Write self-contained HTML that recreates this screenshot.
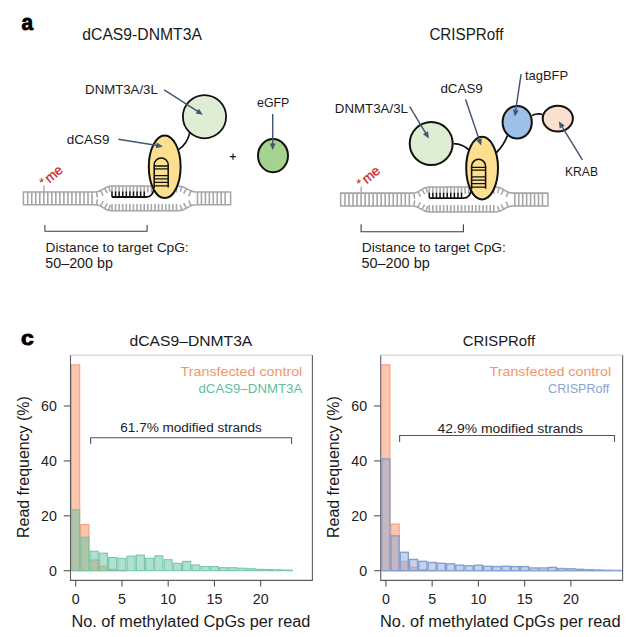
<!DOCTYPE html>
<html><head><meta charset="utf-8"><style>
html,body{margin:0;padding:0;background:#fff;}
svg{display:block;}
text{font-family:"Liberation Sans", sans-serif;}
</style></head><body>
<svg width="627" height="637" viewBox="0 0 627 637">
<rect width="627" height="637" fill="#fff"/>
<text x="21.5" y="29.9" font-size="21.3" fill="#000" text-anchor="start" font-weight="bold" textLength="11.6" lengthAdjust="spacingAndGlyphs" stroke="#000" stroke-width="0.8" stroke-linejoin="round">a</text>
<text x="82.3" y="39.7" font-size="15.8" fill="#1a1a1a" text-anchor="start" font-weight="normal" textLength="119.6" lengthAdjust="spacingAndGlyphs" >dCAS9-DNMT3A</text>
<text x="429.4" y="39.6" font-size="15.8" fill="#1a1a1a" text-anchor="start" font-weight="normal" textLength="74.0" lengthAdjust="spacingAndGlyphs" >CRISPRoff</text>
<g transform="translate(0,0)"><path d="M23.4,204.8 V192.0 H95.5 C103.5,192.0 103.5,185.9 111.5,185.9 H178.5 C187.0,185.9 187.0,192.0 195.5,192.0 H230.6 V204.8 H195.5 C187.0,204.8 187.0,210.8 178.5,210.8 H111.5 C103.5,210.8 103.5,204.8 95.5,204.8 Z" fill="none" stroke="#a6a6a6" stroke-width="1.55"/><path d="M27.70,192.0 V204.8 M31.72,192.0 V204.8 M35.74,192.0 V204.8 M39.76,192.0 V204.8 M43.78,192.0 V204.8 M47.80,192.0 V204.8 M51.82,192.0 V204.8 M55.84,192.0 V204.8 M59.86,192.0 V204.8 M63.88,192.0 V204.8 M67.90,192.0 V204.8 M71.92,192.0 V204.8 M75.94,192.0 V204.8 M79.96,192.0 V204.8 M83.98,192.0 V204.8 M88.00,192.0 V204.8 M92.02,192.0 V204.8 M197.50,192.0 V204.8 M201.45,192.0 V204.8 M205.40,192.0 V204.8 M209.35,192.0 V204.8 M213.30,192.0 V204.8 M217.25,192.0 V204.8 M221.20,192.0 V204.8 M225.15,192.0 V204.8" stroke="#a6a6a6" stroke-width="1.6" fill="none"/><path d="M96.60,191.93 L97.31,197.48 M96.60,204.87 L97.30,199.31 M100.60,190.59 L103.12,195.59 M100.60,206.18 L103.09,201.17 M104.60,188.30 L107.43,193.13 M104.60,208.44 L107.39,203.59 M108.60,186.38 L110.32,191.71 M108.60,210.33 L110.29,204.99 M182.00,186.52 L180.20,191.82 M182.00,210.19 L180.23,204.88 M186.40,188.61 L183.66,193.50 M186.40,208.13 L183.70,203.23 M191.00,191.00 L188.85,196.17 M191.00,205.78 L188.88,200.60 M112.00,185.9 V192.6 M112.00,210.8 V204.0 M115.58,185.9 V192.6 M115.58,210.8 V204.0 M119.16,185.9 V192.6 M119.16,210.8 V204.0 M122.74,185.9 V192.6 M122.74,210.8 V204.0 M126.32,185.9 V192.6 M126.32,210.8 V204.0 M129.90,185.9 V192.6 M129.90,210.8 V204.0 M133.48,185.9 V192.6 M133.48,210.8 V204.0 M137.06,185.9 V192.6 M137.06,210.8 V204.0 M140.64,185.9 V192.6 M140.64,210.8 V204.0 M144.22,185.9 V192.6 M144.22,210.8 V204.0 M147.80,185.9 V192.6 M147.80,210.8 V204.0 M151.38,185.9 V192.6 M151.38,210.8 V204.0 M154.96,185.9 V192.6 M154.96,210.8 V204.0 M158.54,185.9 V192.6 M158.54,210.8 V204.0 M162.12,185.9 V192.6 M162.12,210.8 V204.0 M165.70,185.9 V192.6 M165.70,210.8 V204.0 M169.28,185.9 V192.6 M169.28,210.8 V204.0 M172.86,185.9 V192.6 M172.86,210.8 V204.0 M176.44,185.9 V192.6 M176.44,210.8 V204.0" stroke="#a6a6a6" stroke-width="1.55" fill="none"/><path d="M112.00,197 V191.6 M115.58,197 V191.6 M119.16,197 V191.6 M122.74,197 V191.6 M126.32,197 V191.6 M129.90,197 V191.6 M133.48,197 V191.6 M137.06,197 V191.6 M140.64,197 V191.6 M144.22,197 V191.6" stroke="#111" stroke-width="1.5" fill="none"/><path d="M112,197 H146 C150.5,197 153.6,193.5 154.2,187.5" stroke="#111" stroke-width="1.8" fill="none"/><path d="M43.9,185.5 V192" stroke="#a6a6a6" stroke-width="1.35"/></g>
<path d="M178.2,149.9 C183.5,146.5 188,141 189.8,132.5" stroke="#111" stroke-width="1.6" fill="none"/>
<circle cx="204.5" cy="116.7" r="21.6" fill="#dfedd5" stroke="#111" stroke-width="1.8"/>
<g transform="translate(0,0)"><ellipse cx="164.7" cy="166.8" rx="15.9" ry="31.3" fill="#fde08f" stroke="#111" stroke-width="2"/><path d="M154.2,188 V165.0 A7.0,7.0 0 0 1 168.2,165.0 V187.5" fill="none" stroke="#111" stroke-width="1.55"/><path d="M154.2,166.0 H168.2 M154.2,168.9 H168.2 M154.2,175.6 H168.2 M154.2,178.8 H168.2 M154.2,182.3 H168.2 M154.2,185.9 H168.2" stroke="#111" stroke-width="1.3"/></g>
<ellipse cx="273" cy="155.7" rx="15.0" ry="16.6" fill="#a5d28e" stroke="#111" stroke-width="2"/>
<path d="M164.2,89.9 L198.09,111.67" stroke="#44566e" stroke-width="1.45" fill="none"/><path d="M202.8,114.7 L195.68,113.57 L198.81,108.69 Z" fill="#44566e"/>
<path d="M118.4,139.3 L157.37,145.52" stroke="#44566e" stroke-width="1.45" fill="none"/><path d="M162.9,146.4 L155.93,148.22 L156.84,142.50 Z" fill="#44566e"/>
<path d="M272.7,114.0 L272.70,144.40" stroke="#44566e" stroke-width="1.45" fill="none"/><path d="M272.7,150.0 L269.80,143.40 L275.60,143.40 Z" fill="#44566e"/>
<text x="85.1" y="94.4" font-size="13.5" fill="#1a1a1a" text-anchor="start" font-weight="normal" textLength="72.7" lengthAdjust="spacingAndGlyphs" >DNMT3A/3L</text>
<text x="66.7" y="144.1" font-size="13.5" fill="#1a1a1a" text-anchor="start" font-weight="normal" textLength="42.7" lengthAdjust="spacingAndGlyphs" >dCAS9</text>
<text x="257.0" y="107.0" font-size="13.5" fill="#1a1a1a" text-anchor="start" font-weight="normal" textLength="32.3" lengthAdjust="spacingAndGlyphs" >eGFP</text>
<path d="M229.9,156.6 H235.9 M233.0,153.6 V159.8" stroke="#111" stroke-width="1.1"/>
<text x="39.0" y="187.4" font-size="13" fill="#cc2229" text-anchor="start" font-weight="normal" >*</text>
<text x="0" y="0" fill="#cc2229" stroke="#cc2229" stroke-width="0.25" transform="translate(49.4,183.5) rotate(-40)" font-size="13.6">me</text>
<path d="M44.9,225.0 V231.3 H147.1 V225.0" stroke="#3a3a3a" stroke-width="1.05" fill="none"/>
<text x="45.5" y="252.4" font-size="13.5" fill="#1a1a1a" text-anchor="start" font-weight="normal" textLength="143.1" lengthAdjust="spacingAndGlyphs" >Distance to target CpG:</text>
<text x="45.3" y="267.9" font-size="13.9" fill="#1a1a1a" text-anchor="start" font-weight="normal" textLength="67.6" lengthAdjust="spacingAndGlyphs" >50–200 bp</text>
<g transform="translate(317.3,1.1)"><path d="M23.4,204.8 V192.0 H95.5 C103.5,192.0 103.5,185.9 111.5,185.9 H178.5 C187.0,185.9 187.0,192.0 195.5,192.0 H230.6 V204.8 H195.5 C187.0,204.8 187.0,210.8 178.5,210.8 H111.5 C103.5,210.8 103.5,204.8 95.5,204.8 Z" fill="none" stroke="#a6a6a6" stroke-width="1.55"/><path d="M27.70,192.0 V204.8 M31.72,192.0 V204.8 M35.74,192.0 V204.8 M39.76,192.0 V204.8 M43.78,192.0 V204.8 M47.80,192.0 V204.8 M51.82,192.0 V204.8 M55.84,192.0 V204.8 M59.86,192.0 V204.8 M63.88,192.0 V204.8 M67.90,192.0 V204.8 M71.92,192.0 V204.8 M75.94,192.0 V204.8 M79.96,192.0 V204.8 M83.98,192.0 V204.8 M88.00,192.0 V204.8 M92.02,192.0 V204.8 M197.50,192.0 V204.8 M201.45,192.0 V204.8 M205.40,192.0 V204.8 M209.35,192.0 V204.8 M213.30,192.0 V204.8 M217.25,192.0 V204.8 M221.20,192.0 V204.8 M225.15,192.0 V204.8" stroke="#a6a6a6" stroke-width="1.6" fill="none"/><path d="M96.60,191.93 L97.31,197.48 M96.60,204.87 L97.30,199.31 M100.60,190.59 L103.12,195.59 M100.60,206.18 L103.09,201.17 M104.60,188.30 L107.43,193.13 M104.60,208.44 L107.39,203.59 M108.60,186.38 L110.32,191.71 M108.60,210.33 L110.29,204.99 M182.00,186.52 L180.20,191.82 M182.00,210.19 L180.23,204.88 M186.40,188.61 L183.66,193.50 M186.40,208.13 L183.70,203.23 M191.00,191.00 L188.85,196.17 M191.00,205.78 L188.88,200.60 M112.00,185.9 V192.6 M112.00,210.8 V204.0 M115.58,185.9 V192.6 M115.58,210.8 V204.0 M119.16,185.9 V192.6 M119.16,210.8 V204.0 M122.74,185.9 V192.6 M122.74,210.8 V204.0 M126.32,185.9 V192.6 M126.32,210.8 V204.0 M129.90,185.9 V192.6 M129.90,210.8 V204.0 M133.48,185.9 V192.6 M133.48,210.8 V204.0 M137.06,185.9 V192.6 M137.06,210.8 V204.0 M140.64,185.9 V192.6 M140.64,210.8 V204.0 M144.22,185.9 V192.6 M144.22,210.8 V204.0 M147.80,185.9 V192.6 M147.80,210.8 V204.0 M151.38,185.9 V192.6 M151.38,210.8 V204.0 M154.96,185.9 V192.6 M154.96,210.8 V204.0 M158.54,185.9 V192.6 M158.54,210.8 V204.0 M162.12,185.9 V192.6 M162.12,210.8 V204.0 M165.70,185.9 V192.6 M165.70,210.8 V204.0 M169.28,185.9 V192.6 M169.28,210.8 V204.0 M172.86,185.9 V192.6 M172.86,210.8 V204.0 M176.44,185.9 V192.6 M176.44,210.8 V204.0" stroke="#a6a6a6" stroke-width="1.55" fill="none"/><path d="M112.00,197 V191.6 M115.58,197 V191.6 M119.16,197 V191.6 M122.74,197 V191.6 M126.32,197 V191.6 M129.90,197 V191.6 M133.48,197 V191.6 M137.06,197 V191.6 M140.64,197 V191.6 M144.22,197 V191.6" stroke="#111" stroke-width="1.5" fill="none"/><path d="M112,197 H146 C150.5,197 153.6,193.5 154.2,187.5" stroke="#111" stroke-width="1.8" fill="none"/><path d="M43.9,185.5 V192" stroke="#a6a6a6" stroke-width="1.35"/></g>
<path d="M453.5,143.7 C460,144 466,147 469.5,150.5" stroke="#111" stroke-width="1.8" fill="none"/>
<path d="M496.5,152.5 C502,147 505,142 507.5,135.5" stroke="#111" stroke-width="1.8" fill="none"/>
<path d="M532,115.5 C536,113.5 539,113.5 542.5,114.5" stroke="#111" stroke-width="1.8" fill="none"/>
<circle cx="431.2" cy="143.6" r="21.5" fill="#deeed4" stroke="#111" stroke-width="2"/>
<g transform="translate(317.4,1.3)"><ellipse cx="164.7" cy="166.8" rx="15.9" ry="31.3" fill="#fde08f" stroke="#111" stroke-width="2"/><path d="M154.2,188 V165.0 A7.0,7.0 0 0 1 168.2,165.0 V187.5" fill="none" stroke="#111" stroke-width="1.55"/><path d="M154.2,166.0 H168.2 M154.2,168.9 H168.2 M154.2,175.6 H168.2 M154.2,178.8 H168.2 M154.2,182.3 H168.2 M154.2,185.9 H168.2" stroke="#111" stroke-width="1.3"/></g>
<ellipse cx="517.2" cy="122.2" rx="14.6" ry="16.3" fill="#9cc0e6" stroke="#111" stroke-width="2"/>
<ellipse cx="557.8" cy="118.6" rx="15.1" ry="12.8" fill="#fbe0d0" stroke="#111" stroke-width="2"/>
<path d="M409.7,106.7 L426.01,133.71" stroke="#44566e" stroke-width="1.45" fill="none"/><path d="M428.9,138.5 L423.01,134.35 L427.97,131.35 Z" fill="#44566e"/>
<path d="M465.5,99.3 L479.40,140.20" stroke="#44566e" stroke-width="1.45" fill="none"/><path d="M481.2,145.5 L476.33,140.18 L481.82,138.32 Z" fill="#44566e"/>
<path d="M521.1,74.1 L515.62,110.96" stroke="#44566e" stroke-width="1.45" fill="none"/><path d="M514.8,116.5 L512.90,109.55 L518.64,110.40 Z" fill="#44566e"/>
<path d="M582.4,159.9 L561.72,126.08" stroke="#44566e" stroke-width="1.45" fill="none"/><path d="M558.8,121.3 L564.72,125.42 L559.77,128.44 Z" fill="#44566e"/>
<text x="334.8" y="113.1" font-size="13.5" fill="#1a1a1a" text-anchor="start" font-weight="normal" textLength="73.2" lengthAdjust="spacingAndGlyphs" >DNMT3A/3L</text>
<text x="440.4" y="93.0" font-size="13.5" fill="#1a1a1a" text-anchor="start" font-weight="normal" textLength="42.4" lengthAdjust="spacingAndGlyphs" >dCAS9</text>
<text x="524.9" y="80.4" font-size="13.5" fill="#1a1a1a" text-anchor="start" font-weight="normal" textLength="43.3" lengthAdjust="spacingAndGlyphs" >tagBFP</text>
<text x="565.0" y="175.6" font-size="13.5" fill="#1a1a1a" text-anchor="start" font-weight="normal" textLength="33.0" lengthAdjust="spacingAndGlyphs" >KRAB</text>
<text x="356.3" y="188.2" font-size="13" fill="#cc2229" text-anchor="start" font-weight="normal" >*</text>
<text x="0" y="0" fill="#cc2229" stroke="#cc2229" stroke-width="0.25" transform="translate(366.7,184.3) rotate(-40)" font-size="13.6">me</text>
<path d="M361.1,224.3 V231.8 H463.4 V224.3" stroke="#3a3a3a" stroke-width="1.05" fill="none"/>
<text x="361.7" y="252.4" font-size="13.5" fill="#1a1a1a" text-anchor="start" font-weight="normal" textLength="144.2" lengthAdjust="spacingAndGlyphs" >Distance to target CpG:</text>
<text x="361.5" y="267.9" font-size="13.9" fill="#1a1a1a" text-anchor="start" font-weight="normal" textLength="68.2" lengthAdjust="spacingAndGlyphs" >50–200 bp</text>
<text x="21.0" y="345.3" font-size="21.0" fill="#000" text-anchor="start" font-weight="bold" textLength="12.8" lengthAdjust="spacingAndGlyphs" stroke="#000" stroke-width="0.9" stroke-linejoin="round">c</text>
<g transform="translate(0,0)"><path d="M70.4,355.2 H312.4" stroke="#d6d6d6" stroke-width="1.2" fill="none"/><path d="M70.5,355.3 V580.4 H312.4 V355.2" stroke="#5e5e5e" stroke-width="1.1" fill="none"/><path d="M63.8,570.70 H70.4" stroke="#555" stroke-width="1.1"/><text x="56.9" y="575.60" font-size="14.2" fill="#222" text-anchor="end">0</text><path d="M63.8,515.80 H70.4" stroke="#555" stroke-width="1.1"/><text x="56.9" y="520.70" font-size="14.2" fill="#222" text-anchor="end">20</text><path d="M63.8,460.90 H70.4" stroke="#555" stroke-width="1.1"/><text x="56.9" y="465.80" font-size="14.2" fill="#222" text-anchor="end">40</text><path d="M63.8,406.00 H70.4" stroke="#555" stroke-width="1.1"/><text x="56.9" y="410.90" font-size="14.2" fill="#222" text-anchor="end">60</text><path d="M75.70,580.5 V586.6" stroke="#555" stroke-width="1.1"/><text x="75.70" y="603.9" font-size="14.2" fill="#222" text-anchor="middle">0</text><path d="M121.95,580.5 V586.6" stroke="#555" stroke-width="1.1"/><text x="121.95" y="603.9" font-size="14.2" fill="#222" text-anchor="middle">5</text><path d="M168.20,580.5 V586.6" stroke="#555" stroke-width="1.1"/><text x="168.20" y="603.9" font-size="14.2" fill="#222" text-anchor="middle">10</text><path d="M214.45,580.5 V586.6" stroke="#555" stroke-width="1.1"/><text x="214.45" y="603.9" font-size="14.2" fill="#222" text-anchor="middle">15</text><path d="M260.70,580.5 V586.6" stroke="#555" stroke-width="1.1"/><text x="260.70" y="603.9" font-size="14.2" fill="#222" text-anchor="middle">20</text><rect x="71.50" y="364.83" width="8.25" height="205.88" fill="#fcc6ae" stroke="#f59a78" stroke-width="1"/><rect x="80.75" y="524.58" width="8.25" height="46.12" fill="#fcc6ae" stroke="#f59a78" stroke-width="1"/><rect x="90.00" y="559.99" width="8.25" height="10.71" fill="#fcc6ae" stroke="#f59a78" stroke-width="1"/><rect x="99.25" y="566.31" width="8.25" height="4.39" fill="#fcc6ae" stroke="#f59a78" stroke-width="1"/><rect x="108.50" y="569.33" width="8.25" height="1.37" fill="#fcc6ae" stroke="#f59a78" stroke-width="1"/><rect x="117.75" y="570.29" width="8.25" height="0.41" fill="#fcc6ae" stroke="#f59a78" stroke-width="1"/><rect x="71.60" y="509.76" width="8.05" height="60.94" fill="#61c1a1" fill-opacity="0.5" stroke="#72c6a6" stroke-width="1.05"/><rect x="80.85" y="537.21" width="8.05" height="33.49" fill="#61c1a1" fill-opacity="0.5" stroke="#72c6a6" stroke-width="1.05"/><rect x="90.10" y="551.21" width="8.05" height="19.49" fill="#61c1a1" fill-opacity="0.5" stroke="#72c6a6" stroke-width="1.05"/><rect x="99.35" y="553.13" width="8.05" height="17.57" fill="#61c1a1" fill-opacity="0.5" stroke="#72c6a6" stroke-width="1.05"/><rect x="108.60" y="557.52" width="8.05" height="13.18" fill="#61c1a1" fill-opacity="0.5" stroke="#72c6a6" stroke-width="1.05"/><rect x="117.85" y="558.35" width="8.05" height="12.35" fill="#61c1a1" fill-opacity="0.5" stroke="#72c6a6" stroke-width="1.05"/><rect x="127.10" y="556.15" width="8.05" height="14.55" fill="#61c1a1" fill-opacity="0.5" stroke="#72c6a6" stroke-width="1.05"/><rect x="136.35" y="555.05" width="8.05" height="15.65" fill="#61c1a1" fill-opacity="0.5" stroke="#72c6a6" stroke-width="1.05"/><rect x="145.60" y="558.35" width="8.05" height="12.35" fill="#61c1a1" fill-opacity="0.5" stroke="#72c6a6" stroke-width="1.05"/><rect x="154.85" y="555.88" width="8.05" height="14.82" fill="#61c1a1" fill-opacity="0.5" stroke="#72c6a6" stroke-width="1.05"/><rect x="164.10" y="559.72" width="8.05" height="10.98" fill="#61c1a1" fill-opacity="0.5" stroke="#72c6a6" stroke-width="1.05"/><rect x="173.35" y="563.29" width="8.05" height="7.41" fill="#61c1a1" fill-opacity="0.5" stroke="#72c6a6" stroke-width="1.05"/><rect x="182.60" y="561.37" width="8.05" height="9.33" fill="#61c1a1" fill-opacity="0.5" stroke="#72c6a6" stroke-width="1.05"/><rect x="191.85" y="564.94" width="8.05" height="5.76" fill="#61c1a1" fill-opacity="0.5" stroke="#72c6a6" stroke-width="1.05"/><rect x="201.10" y="566.58" width="8.05" height="4.12" fill="#61c1a1" fill-opacity="0.5" stroke="#72c6a6" stroke-width="1.05"/><rect x="210.35" y="566.58" width="8.05" height="4.12" fill="#61c1a1" fill-opacity="0.5" stroke="#72c6a6" stroke-width="1.05"/><rect x="219.60" y="567.68" width="8.05" height="3.02" fill="#61c1a1" fill-opacity="0.5" stroke="#72c6a6" stroke-width="1.05"/><rect x="228.85" y="567.68" width="8.05" height="3.02" fill="#61c1a1" fill-opacity="0.5" stroke="#72c6a6" stroke-width="1.05"/><rect x="238.10" y="568.23" width="8.05" height="2.47" fill="#61c1a1" fill-opacity="0.5" stroke="#72c6a6" stroke-width="1.05"/><rect x="247.35" y="568.78" width="8.05" height="1.92" fill="#61c1a1" fill-opacity="0.5" stroke="#72c6a6" stroke-width="1.05"/><rect x="256.60" y="569.33" width="8.05" height="1.37" fill="#61c1a1" fill-opacity="0.5" stroke="#72c6a6" stroke-width="1.05"/><rect x="265.85" y="569.60" width="8.05" height="1.10" fill="#61c1a1" fill-opacity="0.5" stroke="#72c6a6" stroke-width="1.05"/><rect x="275.10" y="569.88" width="8.05" height="0.82" fill="#61c1a1" fill-opacity="0.5" stroke="#72c6a6" stroke-width="1.05"/><rect x="284.35" y="570.15" width="8.05" height="0.55" fill="#61c1a1" fill-opacity="0.5" stroke="#72c6a6" stroke-width="1.05"/><text x="180.6" y="375.7" font-size="13" fill="#f4956a" textLength="121.7" lengthAdjust="spacingAndGlyphs">Transfected control</text><text x="198.5" y="392.6" font-size="13" fill="#5fbf9c" textLength="103.8" lengthAdjust="spacingAndGlyphs">dCAS9–DNMT3A</text><path d="M90.6,444.09999999999997 V437.7 H291.6 V444.09999999999997" stroke="#555" stroke-width="1.1" fill="none"/><text x="120.3" y="431.9" font-size="13.7" fill="#222" textLength="141.6" lengthAdjust="spacingAndGlyphs">61.7% modified strands</text><text x="129.6" y="346.2" font-size="15.3" fill="#1a1a1a" textLength="122.7" lengthAdjust="spacingAndGlyphs">dCAS9–DNMT3A</text><text x="71.4" y="626.8" font-size="15.6" fill="#1a1a1a" textLength="239.0" lengthAdjust="spacingAndGlyphs">No. of methylated CpGs per read</text><text x="0" y="0" font-size="16" fill="#1a1a1a" text-anchor="middle" transform="translate(29.1,467.1) rotate(-90)" textLength="141.8" lengthAdjust="spacingAndGlyphs">Read frequency (%)</text></g>
<g transform="translate(310.2,0)"><path d="M70.4,355.2 H312.4" stroke="#d6d6d6" stroke-width="1.2" fill="none"/><path d="M70.5,355.3 V580.4 H312.4 V355.2" stroke="#5e5e5e" stroke-width="1.1" fill="none"/><path d="M63.8,570.70 H70.4" stroke="#555" stroke-width="1.1"/><text x="56.9" y="575.60" font-size="14.2" fill="#222" text-anchor="end">0</text><path d="M63.8,515.80 H70.4" stroke="#555" stroke-width="1.1"/><text x="56.9" y="520.70" font-size="14.2" fill="#222" text-anchor="end">20</text><path d="M63.8,460.90 H70.4" stroke="#555" stroke-width="1.1"/><text x="56.9" y="465.80" font-size="14.2" fill="#222" text-anchor="end">40</text><path d="M63.8,406.00 H70.4" stroke="#555" stroke-width="1.1"/><text x="56.9" y="410.90" font-size="14.2" fill="#222" text-anchor="end">60</text><path d="M75.70,580.5 V586.6" stroke="#555" stroke-width="1.1"/><text x="75.70" y="603.9" font-size="14.2" fill="#222" text-anchor="middle">0</text><path d="M121.95,580.5 V586.6" stroke="#555" stroke-width="1.1"/><text x="121.95" y="603.9" font-size="14.2" fill="#222" text-anchor="middle">5</text><path d="M168.20,580.5 V586.6" stroke="#555" stroke-width="1.1"/><text x="168.20" y="603.9" font-size="14.2" fill="#222" text-anchor="middle">10</text><path d="M214.45,580.5 V586.6" stroke="#555" stroke-width="1.1"/><text x="214.45" y="603.9" font-size="14.2" fill="#222" text-anchor="middle">15</text><path d="M260.70,580.5 V586.6" stroke="#555" stroke-width="1.1"/><text x="260.70" y="603.9" font-size="14.2" fill="#222" text-anchor="middle">20</text><rect x="71.50" y="364.83" width="8.25" height="205.88" fill="#fcc6ae" stroke="#f59a78" stroke-width="1"/><rect x="80.75" y="524.04" width="8.25" height="46.66" fill="#fcc6ae" stroke="#f59a78" stroke-width="1"/><rect x="90.00" y="561.37" width="8.25" height="9.33" fill="#fcc6ae" stroke="#f59a78" stroke-width="1"/><rect x="99.25" y="567.27" width="8.25" height="3.43" fill="#fcc6ae" stroke="#f59a78" stroke-width="1"/><rect x="108.50" y="569.46" width="8.25" height="1.24" fill="#fcc6ae" stroke="#f59a78" stroke-width="1"/><rect x="117.75" y="570.37" width="8.25" height="0.33" fill="#fcc6ae" stroke="#f59a78" stroke-width="1"/><rect x="71.60" y="458.98" width="8.05" height="111.72" fill="#8da7d1" fill-opacity="0.5" stroke="#859fd3" stroke-width="1.4"/><rect x="80.85" y="535.84" width="8.05" height="34.86" fill="#8da7d1" fill-opacity="0.5" stroke="#859fd3" stroke-width="1.4"/><rect x="90.10" y="552.31" width="8.05" height="18.39" fill="#8da7d1" fill-opacity="0.5" stroke="#859fd3" stroke-width="1.4"/><rect x="99.35" y="559.45" width="8.05" height="11.25" fill="#8da7d1" fill-opacity="0.5" stroke="#859fd3" stroke-width="1.4"/><rect x="108.60" y="561.37" width="8.05" height="9.33" fill="#8da7d1" fill-opacity="0.5" stroke="#859fd3" stroke-width="1.4"/><rect x="117.85" y="562.47" width="8.05" height="8.23" fill="#8da7d1" fill-opacity="0.5" stroke="#859fd3" stroke-width="1.4"/><rect x="127.10" y="563.29" width="8.05" height="7.41" fill="#8da7d1" fill-opacity="0.5" stroke="#859fd3" stroke-width="1.4"/><rect x="136.35" y="563.84" width="8.05" height="6.86" fill="#8da7d1" fill-opacity="0.5" stroke="#859fd3" stroke-width="1.4"/><rect x="145.60" y="565.21" width="8.05" height="5.49" fill="#8da7d1" fill-opacity="0.5" stroke="#859fd3" stroke-width="1.4"/><rect x="154.85" y="565.76" width="8.05" height="4.94" fill="#8da7d1" fill-opacity="0.5" stroke="#859fd3" stroke-width="1.4"/><rect x="164.10" y="565.21" width="8.05" height="5.49" fill="#8da7d1" fill-opacity="0.5" stroke="#859fd3" stroke-width="1.4"/><rect x="173.35" y="566.31" width="8.05" height="4.39" fill="#8da7d1" fill-opacity="0.5" stroke="#859fd3" stroke-width="1.4"/><rect x="182.60" y="566.58" width="8.05" height="4.12" fill="#8da7d1" fill-opacity="0.5" stroke="#859fd3" stroke-width="1.4"/><rect x="191.85" y="566.31" width="8.05" height="4.39" fill="#8da7d1" fill-opacity="0.5" stroke="#859fd3" stroke-width="1.4"/><rect x="201.10" y="566.58" width="8.05" height="4.12" fill="#8da7d1" fill-opacity="0.5" stroke="#859fd3" stroke-width="1.4"/><rect x="210.35" y="566.58" width="8.05" height="4.12" fill="#8da7d1" fill-opacity="0.5" stroke="#859fd3" stroke-width="1.4"/><rect x="219.60" y="567.96" width="8.05" height="2.75" fill="#8da7d1" fill-opacity="0.5" stroke="#859fd3" stroke-width="1.4"/><rect x="228.85" y="567.96" width="8.05" height="2.75" fill="#8da7d1" fill-opacity="0.5" stroke="#859fd3" stroke-width="1.4"/><rect x="238.10" y="567.41" width="8.05" height="3.29" fill="#8da7d1" fill-opacity="0.5" stroke="#859fd3" stroke-width="1.4"/><rect x="247.35" y="568.50" width="8.05" height="2.20" fill="#8da7d1" fill-opacity="0.5" stroke="#859fd3" stroke-width="1.4"/><rect x="256.60" y="568.78" width="8.05" height="1.92" fill="#8da7d1" fill-opacity="0.5" stroke="#859fd3" stroke-width="1.4"/><rect x="265.85" y="569.33" width="8.05" height="1.37" fill="#8da7d1" fill-opacity="0.5" stroke="#859fd3" stroke-width="1.4"/><rect x="275.10" y="569.74" width="8.05" height="0.96" fill="#8da7d1" fill-opacity="0.5" stroke="#859fd3" stroke-width="1.4"/><rect x="284.35" y="570.01" width="8.05" height="0.69" fill="#8da7d1" fill-opacity="0.5" stroke="#859fd3" stroke-width="1.4"/><rect x="293.60" y="570.29" width="8.05" height="0.41" fill="#8da7d1" fill-opacity="0.5" stroke="#859fd3" stroke-width="1.4"/><rect x="302.85" y="570.48" width="8.05" height="0.22" fill="#8da7d1" fill-opacity="0.5" stroke="#859fd3" stroke-width="1.4"/><text x="179.3" y="375.7" font-size="13" fill="#f4956a" textLength="121.7" lengthAdjust="spacingAndGlyphs">Transfected control</text><text x="237.90000000000003" y="392.6" font-size="13" fill="#8aa3d2" textLength="61.1" lengthAdjust="spacingAndGlyphs">CRISPRoff</text><path d="M89.4,441.9 V435.5 H304.3 V441.9" stroke="#555" stroke-width="1.1" fill="none"/><text x="127.40000000000003" y="432.7" font-size="13.7" fill="#222" textLength="145.4" lengthAdjust="spacingAndGlyphs">42.9% modified strands</text><text x="152.5" y="346.2" font-size="15.3" fill="#1a1a1a" textLength="72.4" lengthAdjust="spacingAndGlyphs">CRISPRoff</text><text x="69.80000000000001" y="626.8" font-size="15.6" fill="#1a1a1a" textLength="240.6" lengthAdjust="spacingAndGlyphs">No. of methylated CpGs per read</text><text x="0" y="0" font-size="16" fill="#1a1a1a" text-anchor="middle" transform="translate(29.1,467.1) rotate(-90)" textLength="141.8" lengthAdjust="spacingAndGlyphs">Read frequency (%)</text></g>
</svg></body></html>
